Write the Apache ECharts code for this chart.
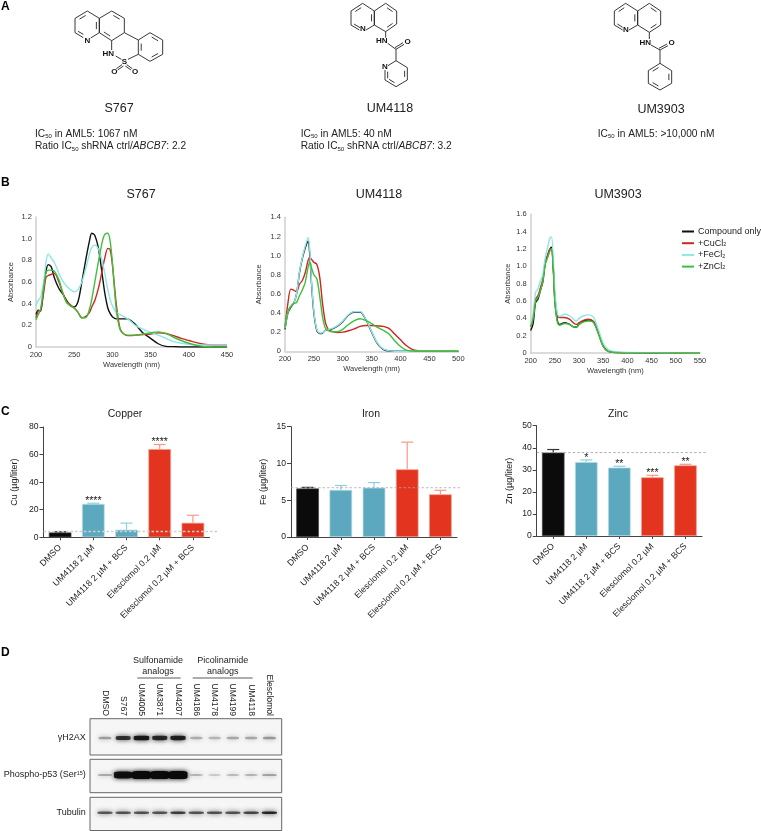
<!DOCTYPE html>
<html><head><meta charset="utf-8">
<style>html,body{margin:0;padding:0;background:#fff}#c{width:761px;height:831px}</style>
<script src="https://cdn.jsdelivr.net/npm/echarts@6/dist/echarts.min.js"></script>
</head><body><div id="c"></div>
<script>
const FONT='Liberation Sans';
// ---------- Panel B: spectra ----------
const seriesNames=['Compound only','+CuCl2','+FeCl2','+ZnCl2'];
const seriesColors=['#111111','#c9291f','#8ee6e6','#40bf3c'];
const wlS767=[200,203,206,210,213,216,220,224,230,235,240,245,250,255,260,265,270,273,277,282,287,290,294,297,300,305,310,315,320,325,330,340,350,360,370,380,390,400,410,420,430,450];
const s767Black=[.3,.34,.33,.55,.70,.76,.74,.64,.54,.49,.43,.38,.37,.42,.60,.80,.98,1.05,1.03,.90,.65,.50,.36,.31,.28,.26,.26,.26,.26,.24,.21,.13,.08,.03,.006,.003,0,0,0,0,0,0];
const s767Red=[.27,.33,.34,.5,.64,.66,.67,.68,.6,.5,.42,.39,.36,.32,.27,.28,.32,.37,.43,.55,.72,.82,.91,.9,.76,.4,.17,.12,.105,.105,.11,.115,.12,.13,.125,.105,.08,.06,.04,.025,.02,.02];
const s767Cyan=[.38,.43,.46,.6,.78,.86,.82,.78,.68,.61,.56,.53,.51,.53,.6,.72,.86,.92,.94,.9,.78,.68,.53,.44,.38,.32,.3,.28,.26,.23,.2,.165,.135,.11,.08,.05,.035,.025,.02,.02,.02,.02];
const s767Green=[.25,.3,.35,.55,.68,.71,.71,.70,.62,.5,.41,.38,.36,.32,.27,.27,.35,.44,.6,.8,.98,1.04,1.05,.98,.78,.35,.16,.12,.11,.11,.11,.12,.13,.14,.125,.09,.06,.035,.015,.005,.002,0];
const wlUM4118=[200,205,210,215,220,225,230,235,240,243,246,250,255,260,265,270,275,280,290,300,310,320,330,340,350,360,370,380,390,400,410,420,430,450,500];
const um4118Black=[.23,.4,.46,.5,.6,.82,.97,1.08,1.15,1.0,.7,.4,.22,.185,.19,.22,.225,.23,.26,.31,.38,.41,.41,.33,.2,.08,.02,.003,0,0,0,0,0,0,0];
const um4118Red=[.25,.5,.65,.64,.62,.7,.74,.82,.95,.98,.96,.93,.91,.78,.5,.3,.23,.21,.195,.2,.215,.235,.26,.27,.27,.265,.26,.24,.18,.12,.06,.02,.006,0,0];
const um4118Cyan=[.24,.41,.47,.5,.6,.83,.98,1.1,1.19,1.05,.72,.42,.23,.19,.195,.22,.23,.235,.265,.315,.385,.415,.415,.335,.205,.085,.025,.005,0,0,0,0,0,0,0];
const um4118Green=[.25,.42,.47,.5,.51,.58,.64,.72,.88,.93,.87,.80,.76,.58,.36,.24,.215,.205,.205,.23,.28,.32,.34,.32,.29,.25,.22,.18,.11,.05,.012,.002,0,0,0];
const wlUM3903=[200,205,210,215,220,225,230,235,240,243,247,250,255,260,270,280,290,295,300,310,320,330,340,350,360,370,380,400,450,500,550];
const um3903Black=[.26,.34,.58,.62,.72,.82,1.03,1.12,1.2,1.22,.95,.6,.38,.33,.35,.33,.3,.3,.33,.37,.38,.36,.23,.08,.02,.008,.004,.002,0,0,0];
const um3903Red=[.3,.4,.62,.66,.75,.85,1.05,1.13,1.2,1.2,.95,.65,.43,.41,.41,.39,.34,.33,.35,.38,.39,.36,.23,.08,.02,.01,.005,.002,.002,0,0];
const um3903Cyan=[.33,.45,.7,.74,.83,.9,1.1,1.22,1.33,1.34,1.05,.7,.46,.42,.45,.43,.38,.37,.40,.43,.44,.41,.27,.11,.04,.02,.012,.006,.004,.002,0];
const um3903Green=[.3,.4,.6,.64,.72,.82,1.02,1.1,1.18,1.2,.93,.58,.36,.32,.34,.33,.3,.3,.33,.36,.37,.35,.22,.075,.018,.008,.004,.002,.002,0,0];
// ---------- Panel C: metals ----------
const metalCats=['DMSO','UM4118 2 µM','UM4118 2 µM + BCS','Elesclomol 0.2 µM','Elesclomol 0.2 µM + BCS'];
const cuValues=[3.5,24.2,5.5,64,10.5], cuErrTop=[4,24.7,10.3,67.3,16], cuSig=['','****','','****',''];
const feValues=[6.6,6.4,6.7,9.2,5.8], feErrTop=[6.75,7.0,7.4,12.9,6.35], feSig=['','','','',''];
const znValues=[37.8,33.5,31,26.6,32], znErrTop=[39.2,34.5,31.6,27.5,32.5], znSig=['','*','**','***','**'];
const cuRef=4.2, feRef=6.7, znRef=37.8;
// ---------- Panel D: blots ----------
const lanes=['DMSO','S767','UM4005','UM3871','UM4207','UM4186','UM4178','UM4199','UM4118','Elesclomol'];
const h2axBands=[.3,.75,.9,.8,.85,.25,.22,.27,.27,.33];
const p53Bands=[.35,.93,1,1,1,.3,.2,.27,.3,.4];
const tubulinBands=[.6,.62,.62,.62,.72,.62,.62,.62,.68,.85];

const zip=(x,y)=>x.map((v,i)=>[v,y[i]]);
const grid=[],xAxis=[],yAxis=[],series=[],graphic=[];
const txt={fontFamily:FONT,color:'#222'};
function addGrid(g,x,y){const i=grid.length;grid.push(g);x.gridIndex=i;y.gridIndex=i;xAxis.push(x);yAxis.push(y);return i;}

// spectra
function spectrum(name,box,xMax,yMax,yInt,wl,ys,yGap){
  const i=addGrid({left:box[0],top:box[1],width:box[2]-box[0],height:box[3]-box[1]},
   {type:'value',min:200,max:xMax,interval:50,name:'Wavelength (nm)',nameLocation:'middle',nameGap:14,
    nameTextStyle:{...txt,fontSize:7.5,color:'#333'},axisLine:{show:true,lineStyle:{color:'#cfcfcf',width:1.5}},axisTick:{show:false},splitLine:{show:false},
    axisLabel:{...txt,fontSize:7.5,margin:4,color:'#333'}},
   {type:'value',min:0,max:yMax,interval:yInt,name:'Absorbance',nameLocation:'middle',nameGap:yGap,
    nameTextStyle:{...txt,fontSize:7.5,color:'#333'},axisLine:{show:true,lineStyle:{color:'#cfcfcf',width:1.5}},axisTick:{show:false},splitLine:{show:false},
    axisLabel:{...txt,fontSize:7.5,margin:4,color:'#333',formatter:v=>v===0?'0':v.toFixed(1)}});
  ys.forEach((y,k)=>series.push({type:'line',name:seriesNames[k],xAxisIndex:i,yAxisIndex:i,data:zip(wl,y),smooth:.3,showSymbol:false,symbol:'none',
    lineStyle:{color:seriesColors[k],width:1.4},itemStyle:{color:seriesColors[k]},z:3+k,silent:true}));
}
spectrum('S767',[36,217,227,347],450,1.2,.2,wlS767,[s767Black,s767Red,s767Cyan,s767Green],21);
spectrum('UM4118',[285,217.3,458.3,351.3],500,1.4,.2,wlUM4118,[um4118Black,um4118Red,um4118Cyan,um4118Green],22);
spectrum('UM3903',[530.7,214.3,700,353],550,1.6,.2,wlUM3903,[um3903Black,um3903Red,um3903Cyan,um3903Green],18);

// bars
const barColors=['#0b0b0b','#5ba8bf','#5ba8bf','#e2341f','#e2341f'];
const barBorders=['#444','#b5dbe6','#b5dbe6','#f59a8c','#f59a8c'];
const errColors=['#333','#8fd0de','#8fd0de','#f49a8c','#f49a8c'];
function metal(box,yMax,yInt,name,values,tops,sig,ref,refRight,refColor,refW,nameGap){
  const axisC='#444';
  const i=addGrid({left:box[0],top:box[1],width:box[2]-box[0],height:box[3]-box[1]},
    {type:'category',data:metalCats,axisLine:{show:true,lineStyle:{color:axisC,width:1}},axisTick:{show:true,alignWithLabel:true,length:3,lineStyle:{color:axisC}},
     axisLabel:{...txt,fontSize:8.8,rotate:45,margin:9,interval:0}},
    {type:'value',min:0,max:yMax,interval:yInt,name:name,nameLocation:'middle',nameGap:nameGap,nameTextStyle:{...txt,fontSize:9},
     axisLine:{show:true,lineStyle:{color:axisC,width:1}},axisTick:{show:true,length:4,lineStyle:{color:axisC}},splitLine:{show:false},axisLabel:{...txt,fontSize:8.6,margin:5}});
  series.push({type:'bar',xAxisIndex:i,yAxisIndex:i,barWidth:'68%',silent:true,
    data:values.map((v,k)=>({value:v,itemStyle:{color:barColors[k],borderColor:barBorders[k],borderWidth:.7}}))});
  series.push({type:'custom',xAxisIndex:i,yAxisIndex:i,silent:true,z:4,data:values.map((v,k)=>[k,v,tops[k]]),
    renderItem:(p,api)=>{
      const k=api.value(0),b=api.coord([k,api.value(1)]),t=api.coord([k,api.value(2)]);
      const kids=[{type:'line',shape:{x1:b[0],y1:b[1],x2:t[0],y2:t[1]},style:{stroke:errColors[k],lineWidth:1.2}},
        {type:'line',shape:{x1:t[0]-6,y1:t[1],x2:t[0]+6,y2:t[1]},style:{stroke:errColors[k],lineWidth:1.2}}];
      if(sig[k])kids.push({type:'text',style:{text:sig[k],x:t[0],y:t[1]-2,align:'center',verticalAlign:'middle',font:'10.5px "'+FONT+'"',fill:'#222'}});
      return {type:'group',children:kids};
    }});
  const j=addGrid({left:box[0],top:box[1],width:refRight-box[0],height:box[3]-box[1]},
    {type:'value',min:0,max:1,show:false},{type:'value',min:0,max:yMax,show:false});
  series.push({type:'line',xAxisIndex:j,yAxisIndex:j,silent:true,data:[[0,ref],[1,ref]],symbol:'none',z:5,lineStyle:{color:refColor,width:refW,type:[2.5,2]}});
}
metal([43.5,427,209.5,537.3],80,20,'Cu (µg/liter)',cuValues,cuErrTop,cuSig,cuRef,218,'#cfcfcf',1.4,24);
metal([291,426.7,457,537],15,5,'Fe (µg/liter)',feValues,feErrTop,feSig,feRef,461,'#aaa',.8,23);
metal([536.7,425.7,702,536],50,10,'Zn (µg/liter)',znValues,znErrTop,znSig,znRef,707,'#999',.8,23);

// blots
function blot(label,centerY,bands,hFn,wFn,showLanes){
  const i=addGrid({left:95.8,width:182.7,top:centerY-15,height:30},
    {type:'category',data:lanes,position:'top',show:true,axisLine:{show:false},axisTick:{show:false},
     axisLabel:showLanes?{...txt,fontSize:8.6,rotate:90,margin:7,interval:0}:{show:false}},
    {type:'category',data:[label],axisLine:{show:false},axisTick:{show:false},
     axisLabel:{...txt,fontSize:9,margin:10,rich:{s:{fontSize:5.5,verticalAlign:'top'}},formatter:v=>v.replace('15','{s|15}')}});
  series.push({type:'scatter',xAxisIndex:i,yAxisIndex:i,silent:true,symbol:'roundRect',
    data:bands.map((b,k)=>({value:[lanes[k],label],symbolSize:[wFn(b),hFn(b)],itemStyle:{opacity:b}})),
    itemStyle:{color:'#0a0a0a',shadowBlur:5,shadowColor:'#000'}});
}
blot('γH2AX',738,h2axBands,b=>1.5+3.5*b,b=>11+5*b,true);
blot('Phospho-p53 (Ser15)',775,p53Bands,b=>1.2+b*b*b*7,b=>11+8*b,false);
blot('Tubulin',812.7,tubulinBands,b=>2.6,b=>15,false);

// titles
[['S767',141,188],['UM4118',379,188],['UM3903',618,188],['Copper',125,409],['Iron',371,409],['Zinc',618,409]].forEach((t,i)=>
  graphic.push({type:'text',x:t[1],y:t[2],style:{text:t[0],align:'center',verticalAlign:'top',font:(i<3?12.5:10.5)+'px "'+FONT+'"',fill:'#222'}}));
// panel letters
[['A',1,1],['B',1,177],['C',1,406],['D',1,647]].forEach(t=>graphic.push({type:'text',x:t[1],y:t[2],style:{text:t[0],verticalAlign:'top',font:'bold 12px "'+FONT+'"',fill:'#000'}}));
// compound names
[['S767',119,102],['UM4118',390,102],['UM3903',661,103]].forEach(t=>graphic.push({type:'text',x:t[1],y:t[2],style:{text:t[0],align:'center',verticalAlign:'top',font:'12.5px "'+FONT+'"',fill:'#222'}}));
// IC50 lines
const sub={s:{fontSize:6,verticalAlign:'bottom',fontFamily:FONT,fill:'#222',lineHeight:11},i:{fontStyle:'italic',fontSize:10.2,fontFamily:FONT,fill:'#222',lineHeight:11},n:{fontSize:10.2,fontFamily:FONT,fill:'#222',lineHeight:11}};
[['{n|IC}{s|50}{n| in AML5: 1067 nM}',35,128.5],['{n|Ratio IC}{s|50}{n| shRNA ctrl/}{i|ABCB7}{n|: 2.2}',35,141],
 ['{n|IC}{s|50}{n| in AML5: 40 nM}',300.7,128.5],['{n|Ratio IC}{s|50}{n| shRNA ctrl/}{i|ABCB7}{n|: 3.2}',300.7,141],
 ['{n|IC}{s|50}{n| in AML5: >10,000 nM}',597.7,128.5]].forEach(t=>graphic.push({type:'text',x:t[1],y:t[2],style:{text:t[0],rich:sub,verticalAlign:'top',fill:'#222'}}));
// blot group headers
[['Sulfonamide',158,660.7],['analogs',158,671.5],['Picolinamide',222.7,660.7],['analogs',222.7,671.5]].forEach(t=>graphic.push({type:'text',x:t[1],y:t[2],style:{text:t[0],align:'center',verticalAlign:'middle',font:'9px "'+FONT+'"',fill:'#222'}}));
[[137.3,180.7],[192.7,252.7]].forEach(s=>graphic.push({type:'line',shape:{x1:s[0],y1:678,x2:s[1],y2:678},style:{stroke:'#333',lineWidth:.8}}));
// blot frames
[[718.7,755],[759.3,792.7],[797.3,830.5]].forEach(b=>{graphic.push({type:'rect',z:-1,shape:{x:90,y:b[0],width:191.7,height:b[1]-b[0]},style:{fill:'#f6f6f6',stroke:'#666',lineWidth:1}});});

// chemical structures (drawn in 3x crop coordinates)
function mol(ox,rings,bonds,labels){
  const P=p=>[ox+p[0]/3,p[1]/3];
  const L=(a,b,w)=>graphic.push({type:'line',shape:{x1:P(a)[0],y1:P(a)[1],x2:P(b)[0],y2:P(b)[1]},style:{stroke:'#222',lineWidth:w||.9}});
  rings.forEach(r=>{
    const n=r.pts.length,cx=r.pts.reduce((s,p)=>s+p[0],0)/n,cy=r.pts.reduce((s,p)=>s+p[1],0)/n;
    r.pts.forEach((p,i)=>{const q=r.pts[(i+1)%n];
      if(!(r.skip||[]).includes(i))L(p,q);
      if((r.dbl||[]).includes(i)){const f=.76,t=.17;
        const a=[cx+(p[0]-cx)*f,cy+(p[1]-cy)*f],b=[cx+(q[0]-cx)*f,cy+(q[1]-cy)*f];
        L([a[0]+(b[0]-a[0])*t,a[1]+(b[1]-a[1])*t],[b[0]-(b[0]-a[0])*t,b[1]-(b[1]-a[1])*t]);}
    });
  });
  bonds.forEach(b=>L(b[0],b[1]));
  labels.forEach(l=>graphic.push({type:'text',x:ox+l[1]/3,y:l[2]/3,style:{text:l[0],align:'center',verticalAlign:'middle',font:'bold 8px "'+FONT+'"',fill:'#111'}}));
}
mol(0,[
 {pts:[[225,55],[262,33],[298,55],[298,98],[258,121],[225,98]],dbl:[0,2],skip:[3,4]},
 {pts:[[298,55],[335,33],[373,55],[373,98],[335,122],[298,98]],dbl:[1,4]},
 {pts:[[415,120],[450,98],[488,120],[488,163],[450,184],[415,163]],dbl:[1,3,5]}],
 [[[298,98],[272,114]],[[225,98],[250,113]],[[234,94],[250,103]],[[373,98],[415,120]],[[335,122],[335,150]],[[347,168],[364,178]],[[384,178],[415,163]],
  [[366,194],[349,206]],[[370,198],[353,210]],[[380,194],[397,206]],[[376,198],[393,210]]],
 [['N',262,121],['HN',325,162],['S',373,184],['O',343,214],['O',405,214]]);
mol(270,[
 {pts:[[243,33],[278,10],[313,33],[313,75],[278,84],[243,75]],dbl:[0,2],skip:[3,4]},
 {pts:[[313,33],[347,10],[380,33],[380,72],[347,95],[313,75]],dbl:[1,3]},
 {pts:[[378,182],[412,203],[412,240],[378,260],[345,240],[345,203]],dbl:[1,3],skip:[4,5]}],
 [[[313,75],[288,90]],[[243,75],[268,90]],[[252,72],[270,83]],[[347,95],[347,113]],[[353,130],[378,148]],[[378,148],[378,182]],
  [[378,148],[402,133]],[[375,143],[399,128]],[[378,182],[354,197]],[[345,210],[345,240]],[[353,215],[353,235]]],
 [['N',279,85],['HN',335,122],['O',413,124],['N',345,201]]);
mol(270,[
 {pts:[[1033,33],[1067,10],[1103,33],[1103,75],[1067,88],[1033,75]],dbl:[0,2],skip:[3,4]},
 {pts:[[1103,33],[1138,10],[1172,33],[1172,75],[1138,97],[1103,75]],dbl:[1,3]},
 {pts:[[1170,190],[1205,212],[1205,250],[1170,270],[1135,250],[1135,212]],dbl:[1,3,5]}],
 [[[1103,75],[1077,90]],[[1033,75],[1058,90]],[[1042,72],[1058,82]],[[1138,97],[1138,117]],[[1143,135],[1170,150]],[[1170,150],[1170,190]],
  [[1170,150],[1194,137]],[[1167,145],[1191,132]]],
 [['N',1068,89],['HN',1126,129],['O',1205,128]]);

const chart=echarts.init(document.getElementById('c'),null,{renderer:'canvas'});
chart.setOption({animation:false,backgroundColor:'#fff',textStyle:{fontFamily:FONT},grid,xAxis,yAxis,series,graphic,
 legend:{data:seriesNames,left:682,top:227,orient:'vertical',icon:'rect',itemWidth:12,itemHeight:2,itemGap:2.7,padding:0,selectedMode:false,
  textStyle:{...txt,fontSize:9,padding:[0,0,0,-1],lineHeight:8.5,rich:{s:{fontSize:5.5,verticalAlign:'bottom',lineHeight:8.5,fontFamily:FONT,color:'#222'}}},
  formatter:n=>n.replace(/2$/,'{s|2}')}});
</script></body></html>
